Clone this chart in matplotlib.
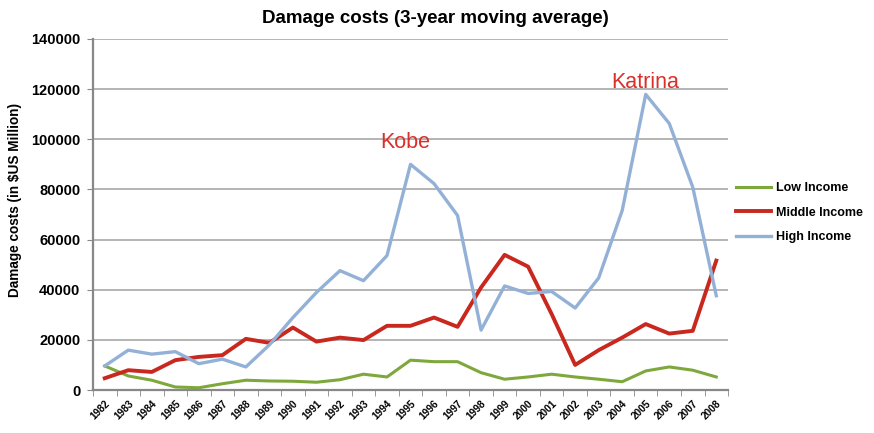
import numpy as np
import matplotlib
matplotlib.use("Agg")
import matplotlib.pyplot as plt

# Data (US$ million, 3-year moving average)
years = list(range(1982, 2009))
low_income = [9600, 5600, 3900, 1200, 900, 2500, 3900, 3600, 3500, 3100, 4100, 6300, 5200,
              11900, 11300, 11300, 6900, 4300, 5200, 6300, 5200, 4300, 3300, 7600, 9200, 7900, 5200]
middle_income = [4700, 7900, 7200, 11900, 13200, 13900, 20400, 18800, 24900, 19300, 20900, 19900, 25600,
                 25600, 28900, 25200, 40900, 53900, 49200, 30300, 10000, 15900, 20900, 26300, 22500, 23600, 51600]
high_income = [9600, 15900, 14300, 15300, 10500, 12300, 9200, 18000, 28900, 38900, 47600, 43600, 53600,
               90000, 82300, 69600, 23900, 41500, 38500, 39300, 32700, 44700, 71600, 117900, 106300, 80900, 37600]
y_ticks = [0, 20000, 40000, 60000, 80000, 100000, 120000, 140000]

plt.rcParams['font.family'] = ['Liberation Sans', 'DejaVu Sans']

fig = plt.figure(figsize=(8.74, 4.33), dpi=100)
ax = fig.add_axes([0.1064, 0.0993, 0.7266, 0.8107])

ax.plot(years, low_income, color="#7ea83c", lw=2.2, label="Low Income")
ax.plot(years, middle_income, color="#c8281e", lw=2.8, label="Middle Income")
ax.plot(years, high_income, color="#93b1d6", lw=2.4, label="High Income")

ax.set_xlim(1981.5, 2008.5)
ax.set_ylim(0, 140000)
ax.set_yticks(y_ticks)
ax.set_yticklabels([str(v) for v in y_ticks], fontsize=10.5, fontweight="bold")
ax.set_xticks(years)
ax.set_xticklabels([str(y) for y in years], rotation=45, ha="right",
                   rotation_mode="anchor", fontsize=7.3, fontweight="bold")
ax.set_xticks(np.arange(1981.5, 2009, 1), minor=True)
ax.tick_params(axis="x", which="major", length=0, pad=6)
ax.tick_params(axis="x", which="minor", length=4, color="#888888")
ax.tick_params(axis="y", length=4, color="#888888", pad=5)

ax.yaxis.grid(True, color="#b4b4b4", lw=1.4)
ax.set_axisbelow(True)
for s in ["top", "right"]:
    ax.spines[s].set_visible(False)
for s in ["left", "bottom"]:
    ax.spines[s].set_color("#888888")
    ax.spines[s].set_linewidth(1.6)

fig.suptitle("Damage costs (3-year moving average)", x=0.498, y=0.958, va="center",
             fontsize=13.5, fontweight="bold")
ax.set_ylabel("Damage costs (in $US Million)", fontsize=9.8, fontweight="bold")
ax.yaxis.set_label_coords(-0.112, 0.54)

ax.text(1994.77, 98800, "Kobe", color="#d9302a", fontsize=15.5, ha="center", va="center")
ax.text(2004.96, 122800, "Katrina", color="#d9302a", fontsize=15.5, ha="center", va="center")

ax.legend(loc="center left", bbox_to_anchor=(0.995, 0.505), frameon=False,
          prop={"size": 9, "weight": "bold"}, handlelength=2.8, handletextpad=0.4,
          labelspacing=1.0)

fig.savefig("out.png", dpi=100)
